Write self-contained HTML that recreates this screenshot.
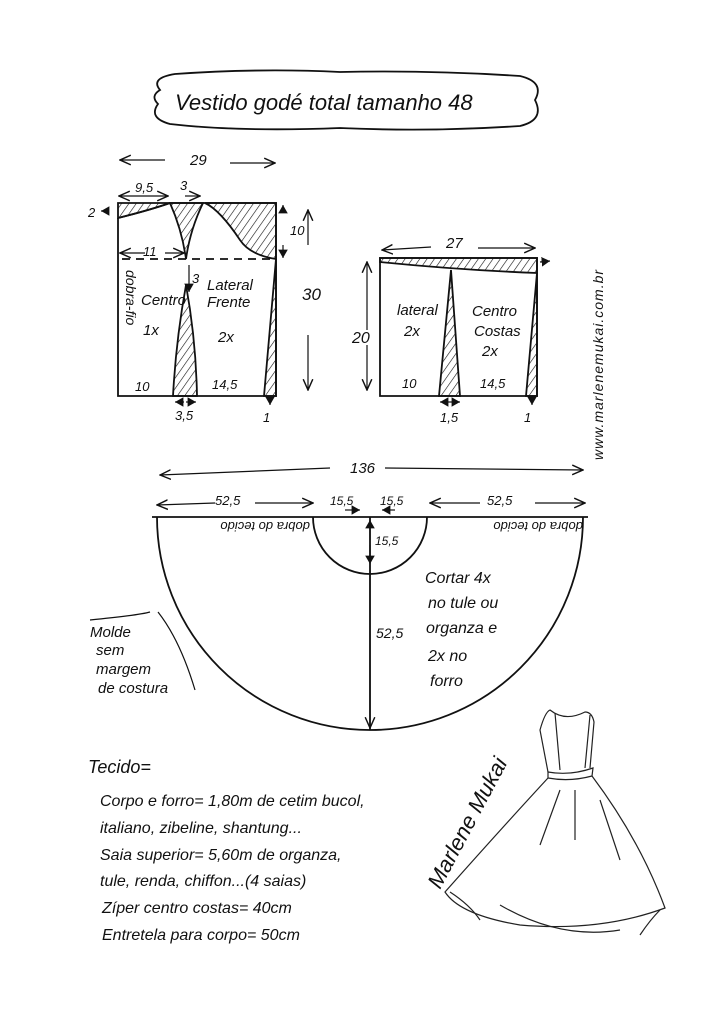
<!DOCTYPE html>
<html><head><meta charset="utf-8"><style>
html,body{margin:0;padding:0;background:#fff;}
svg{display:block}
text{font-family:"Liberation Sans",sans-serif;fill:#111}
</style></head><body>
<svg width="724" height="1024" viewBox="0 0 724 1024" xmlns="http://www.w3.org/2000/svg">
<defs>
<pattern id="h" width="6" height="6" patternUnits="userSpaceOnUse" patternTransform="rotate(35)">
<line x1="0" y1="0" x2="0" y2="6" stroke="#111" stroke-width="1.2"/></pattern>
<marker id="a" markerWidth="10" markerHeight="10" refX="9" refY="5" orient="auto"><path d="M0,1 L9,5 L0,9" fill="none" stroke="#111" stroke-width="1.2"/></marker>
<marker id="f" markerWidth="8" markerHeight="8" refX="7" refY="4" orient="auto"><path d="M0,0 L7,4 L0,8z" fill="#111"/></marker>
</defs>
<rect width="724" height="1024" fill="#fff"/>
<g fill="none" stroke="#111" stroke-width="1.8">
<path d="M160,90 Q150,78 175,74 Q260,68 340,72 Q430,70 520,76 Q545,82 535,100 Q545,120 520,126 Q430,132 340,128 Q240,132 170,124 Q148,118 158,104 Q150,96 160,90Z"/>
<path d="M118,218 L118,396 L276,396 L276,203 L203,203"/>
<path d="M118,218 Q150,210 170,203 L203,203" />
<path d="M118,203 L170,203" stroke-width="1"/>
<path d="M118,203 L170,203 Q150,210 118,218Z" fill="url(#h)"/>
<path d="M170,203 L203,203 Q190,230 186,259 Q182,230 170,203Z" fill="url(#h)"/>
<path d="M205,203 L276,203 L276,259 Q250,255 240,240 Q220,210 205,203Z" fill="url(#h)"/>
<path d="M186,285 Q176,340 173,396 L197,396 Q196,340 186,285Z" fill="url(#h)"/>
<path d="M276,259 L264,396 L276,396Z" fill="url(#h)"/>
<line x1="122" y1="259" x2="274" y2="259" stroke-dasharray="8,6"/>
<path d="M380,258 L380,396 L537,396 L537,258 Z"/>
<path d="M380,258 L537,258 L537,273 Q460,270 380,262Z" fill="url(#h)"/>
<path d="M451,270 L439,396 L460,396Z" fill="url(#h)"/>
<path d="M537,273 L526,396 L537,396Z" fill="url(#h)"/>
<line x1="152" y1="517" x2="588" y2="517"/>
<path d="M157,517 A213,213 0 0 0 583,517"/>
<path d="M313,517 A57,57 0 0 0 427,517"/>
<line x1="370" y1="517" x2="370" y2="730"/>
<path d="M90,620 Q140,615 150,612 M158,612 Q180,640 195,690" stroke-width="1.2"/>
</g>
<g stroke="#111" stroke-width="1.2" fill="none" marker-end="url(#a)">
<line x1="165" y1="160" x2="120" y2="160"/><line x1="230" y1="163" x2="275" y2="163"/>
<line x1="150" y1="196" x2="119" y2="196"/><line x1="150" y1="196" x2="168" y2="196"/>
<line x1="185" y1="196" x2="200" y2="196"/>
<line x1="145" y1="253" x2="120" y2="253"/><line x1="165" y1="253" x2="184" y2="253"/>
<line x1="308" y1="245" x2="308" y2="210"/><line x1="308" y1="335" x2="308" y2="390"/>
<line x1="431" y1="247" x2="382" y2="250"/><line x1="478" y1="248" x2="535" y2="248"/>
<line x1="367" y1="330" x2="367" y2="262"/><line x1="367" y1="345" x2="367" y2="390"/>
<line x1="330" y1="468" x2="160" y2="475"/><line x1="385" y1="468" x2="583" y2="470"/>
<line x1="215" y1="503" x2="157" y2="505"/><line x1="255" y1="503" x2="313" y2="503"/>
<line x1="535" y1="503" x2="585" y2="503"/><line x1="480" y1="503" x2="430" y2="503"/>
<line x1="370" y1="570" x2="370" y2="728"/>
</g>
<g stroke="#111" stroke-width="1.2" fill="none" marker-end="url(#f)">
<line x1="108" y1="211" x2="101" y2="211"/><line x1="283" y1="211" x2="283" y2="205"/><line x1="283" y1="245" x2="283" y2="258"/>
<line x1="189" y1="265" x2="189" y2="292"/><line x1="184" y1="402" x2="175" y2="402"/><line x1="186" y1="402" x2="196" y2="402"/>
<line x1="270" y1="398" x2="270" y2="405"/><line x1="540" y1="262" x2="550" y2="261"/>
<line x1="450" y1="402" x2="440" y2="402"/><line x1="450" y1="402" x2="460" y2="402"/><line x1="532" y1="398" x2="532" y2="405"/>
<line x1="370" y1="545" x2="370" y2="564"/><line x1="370" y1="540" x2="370" y2="520"/>
<line x1="345" y1="510" x2="360" y2="510"/><line x1="395" y1="510" x2="382" y2="510"/>
</g>
<g font-size="15" font-style="italic">
<text x="175" y="110" font-size="22">Vestido godé total tamanho 48</text>
<text x="190" y="165">29</text>
<text x="135" y="192" font-size="13">9,5</text><text x="180" y="190" font-size="13">3</text>
<text x="88" y="217" font-size="13">2</text><text x="290" y="235" font-size="13">10</text>
<text x="143" y="256" font-size="13">11</text><text x="192" y="283" font-size="13">3</text>
<text x="141" y="305">Centro</text><text x="143" y="335">1x</text>
<text x="207" y="290">Lateral</text><text x="207" y="307">Frente</text><text x="218" y="342">2x</text>
<text x="302" y="300" font-size="17">30</text>
<text x="135" y="391" font-size="13">10</text><text x="212" y="389" font-size="13">14,5</text>
<text x="175" y="420" font-size="13">3,5</text><text x="263" y="422" font-size="13">1</text>
<text transform="translate(126,270) rotate(90)" font-size="14">dobra-fio</text>
<text x="446" y="248">27</text><text x="352" y="343" font-size="16">20</text>
<text x="397" y="315">lateral</text><text x="404" y="336">2x</text>
<text x="472" y="316">Centro</text><text x="474" y="336">Costas</text><text x="482" y="356">2x</text>
<text x="402" y="388" font-size="13">10</text><text x="480" y="388" font-size="13">14,5</text>
<text x="440" y="422" font-size="13">1,5</text><text x="524" y="422" font-size="13">1</text>
<text transform="translate(603,460) rotate(-90)" font-size="14" letter-spacing="1">www.marlenemukai.com.br</text>
<text x="350" y="473">136</text>
<text x="215" y="505" font-size="13">52,5</text><text x="330" y="505" font-size="12">15,5</text><text x="380" y="505" font-size="12">15,5</text><text x="487" y="505" font-size="13">52,5</text>
<text transform="translate(310,522) rotate(180)" font-size="13">dobra do tecido</text>
<text transform="translate(583,522) rotate(180)" font-size="13">dobra do tecido</text>
<text x="375" y="545" font-size="12">15,5</text><text x="376" y="638" font-size="14">52,5</text>
<text x="425" y="583" font-size="16">Cortar 4x</text><text x="428" y="608" font-size="16">no tule ou</text>
<text x="426" y="633" font-size="16">organza e</text><text x="428" y="661" font-size="16">2x no</text><text x="430" y="686" font-size="16">forro</text>
<text x="90" y="637" font-size="15">Molde</text><text x="96" y="655" font-size="15">sem</text><text x="96" y="674" font-size="15">margem</text><text x="98" y="693" font-size="15">de costura</text>
<text x="88" y="773" font-size="18">Tecido=</text>
<text x="100" y="806" font-size="16">Corpo e forro= 1,80m  de cetim bucol,</text>
<text x="100" y="833" font-size="16">italiano, zibeline, shantung...</text>
<text x="100" y="860" font-size="16">Saia superior= 5,60m de organza,</text>
<text x="100" y="886" font-size="16">tule, renda, chiffon...(4 saias)</text>
<text x="102" y="913" font-size="16">Zíper centro costas= 40cm</text>
<text x="102" y="940" font-size="16">Entretela para corpo= 50cm</text>
<text transform="translate(440,890) rotate(-62)" font-size="22">Marlene Mukai</text>
</g>
<g fill="none" stroke="#222" stroke-width="1.2">
<path d="M548,772 L540,730 Q545,712 550,710 Q565,722 585,712 Q592,712 594,722 L590,768"/>
<path d="M555,713 L560,770 M590,715 L585,768"/>
<path d="M548,772 Q570,776 593,768 L592,776 Q570,782 548,778Z"/>
<path d="M548,778 Q500,830 445,892 Q460,915 520,925 Q600,932 665,908 Q640,840 592,776"/>
<path d="M450,892 Q470,905 480,920 M660,910 Q650,920 640,935 M500,905 Q560,940 620,930"/>
<path d="M560,790 L540,845 M575,790 L575,840 M600,800 L620,860"/>
</g>
</svg>
</body></html>
